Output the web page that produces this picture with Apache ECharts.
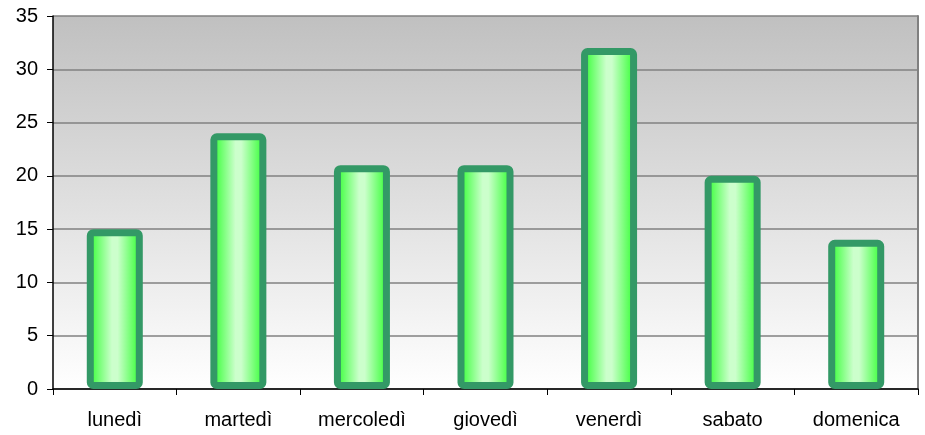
<!DOCTYPE html>
<html>
<head>
<meta charset="utf-8">
<script src="https://cdn.jsdelivr.net/npm/echarts@6/dist/echarts.min.js"></script>
<style>
  html, body { margin: 0; padding: 0; background: #fff; }
  #chart { width: 925px; height: 435px; }
</style>
</head>
<body>
<div id="chart"></div>
<script>
// giorni e valori
const days = ["lunedì", "martedì", "mercoledì", "giovedì", "venerdì", "sabato", "domenica"];
const values = [15, 24, 21, 21, 32, 20, 14];

const chart = echarts.init(document.getElementById("chart"));

chart.setOption({
  animation: false,
  textStyle: { fontFamily: "Liberation Sans, Arial, sans-serif" },
  grid: {
    left: 53,
    right: 7,
    top: 16,
    bottom: 46,
    show: true,
    borderWidth: 0,
    backgroundColor: new echarts.graphic.LinearGradient(0, 0, 0, 1, [
      { offset: 0, color: "#c0c0c0" },
      { offset: 1, color: "#ffffff" }
    ])
  },
  xAxis: {
    type: "category",
    data: days,
    boundaryGap: true,
    axisLine: { lineStyle: { color: "#000", width: 1.5 } },
    axisTick: { show: true, length: 6, lineStyle: { color: "#000" } },
    axisLabel: { color: "#000", fontSize: 20, margin: 21 }
  },
  yAxis: [
    {
      type: "value",
      min: 0,
      max: 35,
      interval: 5,
      axisLine: { show: true, lineStyle: { color: "#000", width: 1.5 } },
      axisTick: { show: true, length: 6, lineStyle: { color: "#000" } },
      axisLabel: { color: "#000", fontSize: 20, margin: 15 },
      splitLine: { lineStyle: { color: "#808080", width: 1.5 } }
    },
    {
      // bordo destro del riquadro
      type: "value",
      min: 0,
      max: 35,
      position: "right",
      axisLine: { show: true, lineStyle: { color: "#808080", width: 2 } },
      axisTick: { show: false },
      axisLabel: { show: false },
      splitLine: { show: false }
    }
  ],
  series: [
    {
      type: "bar",
      data: values,
      barWidth: 56,
      itemStyle: {
        color: new echarts.graphic.LinearGradient(0, 0, 1, 0, [
          { offset: 0, color: "#22ff22" },
          { offset: 0.45, color: "#ccffcc" },
          { offset: 0.55, color: "#ccffcc" },
          { offset: 1, color: "#22ff22" }
        ]),
        borderColor: "#339966",
        borderWidth: 7,
        borderRadius: 3
      }
    }
  ]
});
</script>
</body>
</html>
